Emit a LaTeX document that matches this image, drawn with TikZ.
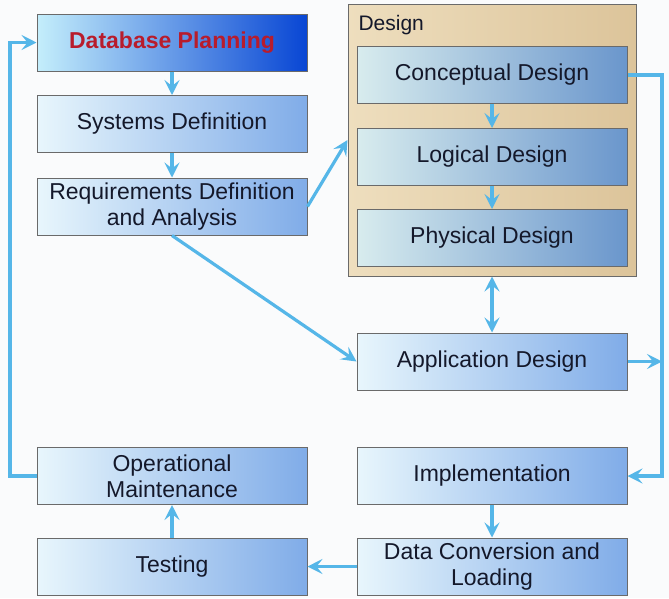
\documentclass[tikz,border=0pt]{standalone}
\usepackage{fontspec}
\setmainfont{Liberation Sans}
\usetikzlibrary{arrows.meta}
\definecolor{arr}{HTML}{55B6E8}
\definecolor{txt}{HTML}{14182A}
\definecolor{edge}{HTML}{6A6A6A}
\tikzset{
  tip/.tip={Stealth[length=15pt,width=15pt,inset=6pt]},
  box/.style={draw=edge, line width=1pt, minimum width=270pt, minimum height=57pt,
    left color=boxL, middle color=boxM, right color=boxR, text=txt, align=center,
    font=\fontsize{23}{26}\selectfont, inner sep=2pt},
  dbox/.style={box, left color=dL, middle color=dM, right color=dR},
  pbox/.style={box, left color=pL, middle color=pM, right color=pR, text=pln,
    font=\fontsize{23}{26}\selectfont\bfseries},
  cont/.style={draw=edge, line width=1pt, minimum width=288pt, minimum height=272pt,
    left color=cL, middle color=cM, right color=cR},
  conn/.style={draw=arr, line width=3.2pt, -tip},
  dconn/.style={draw=arr, line width=3.2pt, tip-tip},
}
\definecolor{boxL}{HTML}{E8F6FC}
\definecolor{boxM}{HTML}{B8D9F4}
\definecolor{boxR}{HTML}{80ACE8}
\definecolor{dL}{HTML}{D8ECEE}
\definecolor{dM}{HTML}{A0C6E8}
\definecolor{dR}{HTML}{6A96CC}
\definecolor{pL}{HTML}{C4EEFB}
\definecolor{pM}{HTML}{3E90EC}
\definecolor{pR}{HTML}{0846D4}
\definecolor{pln}{HTML}{B81C2C}
\definecolor{cL}{HTML}{EEDEBE}
\definecolor{cM}{HTML}{F6EAD2}
\definecolor{cR}{HTML}{DCC49A}
\begin{document}
\begin{tikzpicture}[x=1pt,y=-1pt]
\fill[fill={rgb,255:red,250;green,251;blue,252}] (0,0) rectangle (669,598);
\useasboundingbox (0,0) rectangle (669,598);
\coordinate (lt) at (10,0);
\coordinate (rt) at (662,0);
% design container
\node[cont] (design) at (492,140) {};
\node[anchor=west, text=txt, font=\fontsize{21}{24}\selectfont] (dlabel) at (355,25) {Design};
% left column
\node[pbox] (dbp) at (172,42.5) {Database Planning};
\node[box] (sys) at (172,124) {Systems Definition};
\node[box] (req) at (172,206.5) {Requirements Definition\\and Analysis};
% design boxes
\node[dbox] (con) at (492,75) {Conceptual Design};
\node[dbox] (log) at (492,157) {Logical Design};
\node[dbox] (phy) at (492,238) {Physical Design};
% right column
\node[box] (app) at (492,361.5) {Application Design};
\node[box] (imp) at (492,476) {Implementation};
\node[box] (dcl) at (492,566.5) {Data Conversion and\\Loading};
% bottom left
\node[box] (op) at (172,476) {Operational\\Maintenance};
\node[box] (test) at (172,566.5) {Testing};
% connectors
\draw[conn] (dbp.south) -- (sys.north);
\draw[conn] (sys.south) -- (req.north);
\draw[conn] (req.east) -- (design.west);
\draw[conn] (req.south) -- (app.west);
\draw[conn] (con.south) -- (log.north);
\draw[conn] (log.south) -- (phy.north);
\draw[dconn] (design.south) -- (app.north);
\draw[conn] (con.east) -- (con.east -| rt) |- (imp.east);
\draw[conn] (app.east) -- (app.east -| rt);
\draw[conn] (imp.south) -- (dcl.north);
\draw[conn] (dcl.west) -- (test.east);
\draw[conn] (test.north) -- (op.south);
\draw[conn] (op.west) -- (op.west -| lt) |- (dbp.west);
\end{tikzpicture}
\end{document}
